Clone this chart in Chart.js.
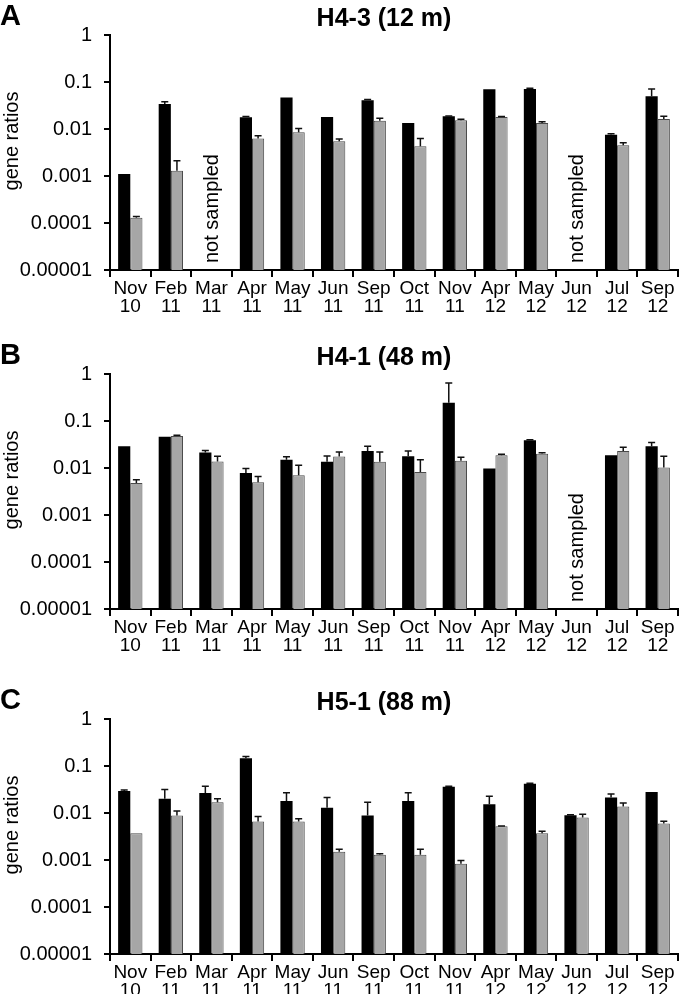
<!DOCTYPE html>
<html>
<head>
<meta charset="utf-8">
<script src="https://cdn.jsdelivr.net/npm/chart.js@4.4.1/dist/chart.umd.min.js"></script>
<style>
  html, body { margin: 0; padding: 0; background: #fff; width: 680px; height: 994px; overflow: hidden; }
  .panel { position: absolute; left: 0; width: 680px; height: 320px; }
  .panel canvas { position: absolute; left: 0; top: 0; }
  .letter { position: absolute; left: 0; top: 1px; font: bold 29px "Liberation Sans", Arial, sans-serif; line-height: 29px; color: #000; }
  .title { position: absolute; left: 234px; width: 300px; top: 5px; text-align: center; font: bold 25px "Liberation Sans", Arial, sans-serif; line-height: 25px; color: #000; }
  .ylab { position: absolute; left: -88px; top: 129px; width: 200px; height: 24px; line-height: 24px; text-align: center; font: 20px "Liberation Sans", Arial, sans-serif; color: #000; transform: rotate(-90deg); }
</style>
</head>
<body>
<script>
// ---- categories / ticks ----
const monthLabels = ['Nov','Feb','Mar','Apr','May','Jun','Sep','Oct','Nov','Apr','May','Jun','Jul','Sep'];
const yearLabels  = ['10','11','11','11','11','11','11','11','11','12','12','12','12','12'];
const yTickValues = [0.00001, 0.0001, 0.001, 0.01, 0.1, 1];
const yTickLabels = ['0.00001', '0.0001', '0.001', '0.01', '0.1', '1'];
const panelLetters = ['A', 'B', 'C'];
const panelTitles = ['H4-3 (12 m)', 'H4-1 (48 m)', 'H5-1 (88 m)'];
const yAxisTitle = 'gene ratios';
const missingText = 'not sampled';

// ---- panel A: H4-3 (12 m) ----
const aBlack   = [0.0011, 0.034, null, 0.0178, 0.047, 0.018, 0.041, 0.0134, 0.0186, 0.070, 0.071, null, 0.0075, 0.050];
const aBlackHi = [0.0011, 0.038, null, 0.0185, 0.047, 0.018, 0.0425, 0.0134, 0.0188, 0.070, 0.074, null, 0.0079, 0.071];
const aGray    = [0.00013, 0.0013, null, 0.0063, 0.0085, 0.0055, 0.015, 0.0043, 0.0153, 0.018, 0.0134, null, 0.0045, 0.0164];
const aGrayHi  = [0.000138, 0.0021, null, 0.0072, 0.0103, 0.0061, 0.017, 0.0063, 0.0162, 0.0184, 0.0142, null, 0.0051, 0.0186];

// ---- panel B: H4-1 (48 m) ----
const bBlack   = [0.029, 0.046, 0.0214, 0.0078, 0.0149, 0.0135, 0.023, 0.0178, 0.246, 0.0098, 0.039, null, 0.0187, 0.029];
const bBlackHi = [0.029, 0.046, 0.0236, 0.0097, 0.0174, 0.018, 0.029, 0.023, 0.64, 0.0098, 0.040, null, 0.0187, 0.035];
const bGray    = [0.0048, 0.048, 0.0137, 0.0050, 0.0070, 0.0176, 0.0135, 0.0082, 0.0142, 0.0187, 0.020, null, 0.023, 0.0102];
const bGrayHi  = [0.0056, 0.050, 0.0178, 0.0066, 0.0115, 0.0218, 0.022, 0.015, 0.0169, 0.0196, 0.021, null, 0.0277, 0.0178];

// ---- panel C: H5-1 (88 m) ----
const cBlack   = [0.0295, 0.020, 0.0268, 0.146, 0.018, 0.0129, 0.0089, 0.018, 0.036, 0.0154, 0.042, 0.0090, 0.0214, 0.028];
const cBlackHi = [0.031, 0.0316, 0.037, 0.160, 0.027, 0.0215, 0.017, 0.027, 0.037, 0.0228, 0.043, 0.0092, 0.0255, 0.028];
const cGray    = [0.0037, 0.0089, 0.017, 0.0066, 0.0066, 0.0015, 0.0013, 0.0013, 0.00083, 0.0052, 0.0037, 0.0080, 0.0138, 0.0060];
const cGrayHi  = [0.0037, 0.011, 0.020, 0.0084, 0.0075, 0.0017, 0.00135, 0.0017, 0.00098, 0.0053, 0.0041, 0.0094, 0.0164, 0.0067];

const panelBlack   = [aBlack, bBlack, cBlack];
const panelBlackHi = [aBlackHi, bBlackHi, cBlackHi];
const panelGray    = [aGray, bGray, cGray];
const panelGrayHi  = [aGrayHi, bGrayHi, cGrayHi];
const panelTops = [0, 339, 684];

const FONT = '"Liberation Sans", Arial, sans-serif';

const errorBarPlugin = {
  id: 'errorBars',
  afterDatasetsDraw(chart) {
    const ctx = chart.ctx;
    const yScale = chart.scales.y;
    chart.data.datasets.forEach((ds, di) => {
      const meta = chart.getDatasetMeta(di);
      meta.data.forEach((el, i) => {
        const v = ds.data[i];
        const hi = ds.errHigh[i];
        if (v == null || hi == null || hi <= v) return;
        const yTop = yScale.getPixelForValue(hi);
        const x = el.x;
        ctx.save();
        ctx.strokeStyle = '#111';
        ctx.lineWidth = 1.5;
        ctx.beginPath();
        ctx.moveTo(x, el.y);
        ctx.lineTo(x, yTop);
        ctx.moveTo(x - 3.5, yTop);
        ctx.lineTo(x + 3.5, yTop);
        ctx.stroke();
        ctx.restore();
      });
    });
  }
};

const notSampledPlugin = {
  id: 'notSampled',
  afterDatasetsDraw(chart) {
    const ctx = chart.ctx;
    const xs = chart.scales.x;
    const area = chart.chartArea;
    const ds = chart.data.datasets;
    chart.data.labels.forEach((lab, i) => {
      if (ds.every(d => d.data[i] == null)) {
        ctx.save();
        ctx.translate(xs.getPixelForValue(i) + 1, area.bottom - 7);
        ctx.rotate(-Math.PI / 2);
        ctx.font = '20px ' + FONT;
        ctx.fillStyle = '#000';
        ctx.textAlign = 'left';
        ctx.textBaseline = 'middle';
        ctx.fillText(missingText, 0, 0);
        ctx.restore();
      }
    });
  }
};

for (let p = 0; p < 3; p++) {
  const div = document.createElement('div');
  div.className = 'panel';
  div.style.top = panelTops[p] + 'px';
  const canvas = document.createElement('canvas');
  canvas.width = 680; canvas.height = 320;
  canvas.style.width = '680px'; canvas.style.height = '320px';
  div.appendChild(canvas);
  const letter = document.createElement('div');
  letter.className = 'letter'; letter.textContent = panelLetters[p];
  div.appendChild(letter);
  const title = document.createElement('div');
  title.className = 'title'; title.textContent = panelTitles[p];
  div.appendChild(title);
  const ylab = document.createElement('div');
  ylab.className = 'ylab'; ylab.textContent = yAxisTitle;
  div.appendChild(ylab);
  document.body.appendChild(div);

  new Chart(canvas.getContext('2d'), {
    type: 'bar',
    data: {
      labels: monthLabels.map((m, i) => [m, yearLabels[i]]),
      datasets: [
        { data: panelBlack[p], errHigh: panelBlackHi[p], backgroundColor: '#000000', borderWidth: 0 },
        { data: panelGray[p], errHigh: panelGrayHi[p], backgroundColor: '#a6a6a6', borderColor: '#4a4a4a', borderWidth: 1 }
      ]
    },
    options: {
      responsive: false,
      animation: false,
      devicePixelRatio: 1,
      layout: { padding: { left: 0, right: 2, top: 35, bottom: 0 } },
      plugins: { legend: { display: false }, tooltip: { enabled: false }, title: { display: false } },
      datasets: { bar: { categoryPercentage: 0.6, barPercentage: 1.0 } },
      scales: {
        x: {
          type: 'category',
          offset: true,
          grid: { display: true, offset: true, drawOnChartArea: false, drawTicks: true, tickLength: 7, color: '#000', lineWidth: 2 },
          border: { display: true, color: '#000', width: 2 },
          ticks: { color: '#000', font: { family: FONT, size: 19, lineHeight: 0.95 }, padding: 3, maxRotation: 0, autoSkip: false },
          afterFit(scale) { scale.height = 50; }
        },
        y: {
          type: 'logarithmic',
          min: 0.00001,
          max: 1,
          grid: { display: true, drawOnChartArea: false, drawTicks: true, tickLength: 6, color: '#000', lineWidth: 2 },
          border: { display: true, color: '#000', width: 2 },
          ticks: {
            color: '#000', font: { family: FONT, size: 20 }, padding: 12, autoSkip: false,
            callback: (v) => { const k = yTickValues.findIndex(t => Math.abs(Math.log10(t) - Math.log10(v)) < 1e-6); return k >= 0 ? yTickLabels[k] : ''; }
          },
          afterBuildTicks(scale) { scale.ticks = yTickValues.map(v => ({ value: v })); },
          afterFit(scale) { scale.width = 110; }
        }
      }
    },
    plugins: [errorBarPlugin, notSampledPlugin]
  });
}
</script>
</body>
</html>
